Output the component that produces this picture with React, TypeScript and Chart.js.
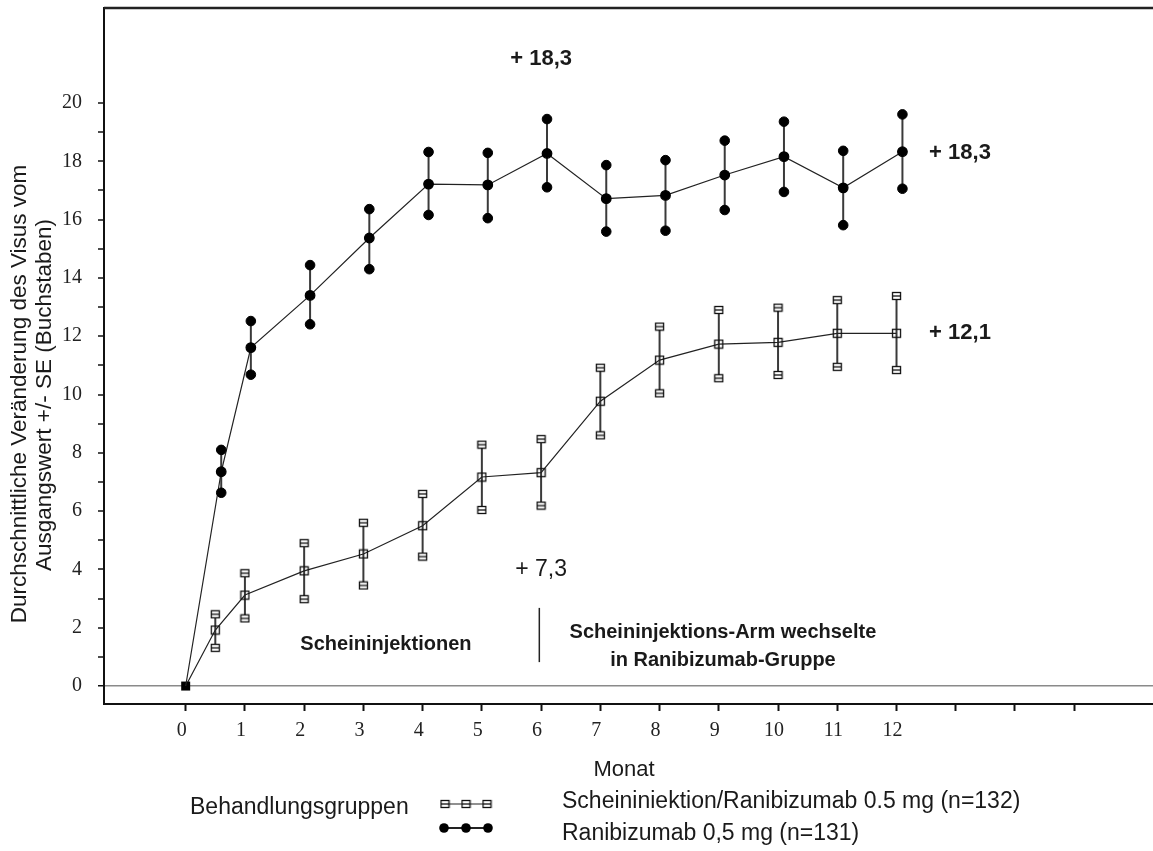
import React, { useEffect, useRef } from "react";
import { Chart, registerables } from "chart.js";

Chart.register(...registerables);

// ---- data ----
const months = [0, 0.5, 1, 2, 3, 4, 5, 6, 7, 8, 9, 10, 11, 12];
const shamMean = [0, 1.92, 3.12, 3.95, 4.53, 5.5, 7.17, 7.32, 9.77, 11.18, 11.73, 11.79, 12.1, 12.1];
const shamUpper = [0, 2.46, 3.87, 4.9, 5.6, 6.59, 8.28, 8.47, 10.92, 12.33, 12.9, 12.98, 13.24, 13.38];
const shamLower = [0, 1.31, 2.32, 2.98, 3.45, 4.44, 6.04, 6.19, 8.6, 10.04, 10.56, 10.67, 10.95, 10.84];
const raniMean = [0, 7.35, 11.61, 13.4, 15.37, 17.22, 17.19, 18.27, 16.72, 16.83, 17.53, 18.16, 17.09, 18.33];
const raniUpper = [0, 8.1, 12.52, 14.44, 16.36, 18.32, 18.29, 19.45, 17.87, 18.04, 18.71, 19.36, 18.36, 19.61];
const raniLower = [0, 6.63, 10.68, 12.41, 14.3, 16.16, 16.05, 17.11, 15.59, 15.62, 16.33, 16.95, 15.81, 17.06];

const xTickValues = [0, 1, 2, 3, 4, 5, 6, 7, 8, 9, 10, 11, 12, 13, 14, 15];
const xTickLabels = ["0", "1", "2", "3", "4", "5", "6", "7", "8", "9", "10", "11", "12", "", "", ""];
const yTickValues = [0, 1, 2, 3, 4, 5, 6, 7, 8, 9, 10, 11, 12, 13, 14, 15, 16, 17, 18, 19, 20];
const yTickLabels = ["0", "", "2", "", "4", "", "6", "", "8", "", "10", "", "12", "", "14", "", "16", "", "18", "", "20"];

const xTitle = "Monat";
const yTitleLines = ["Durchschnittliche Veränderung des Visus vom", "Ausgangswert +/- SE (Buchstaben)"];
const legendTitle = "Behandlungsgruppen";
const shamLabel = "Scheininiektion/Ranibizumab 0.5 mg (n=132)";
const raniLabel = "Ranibizumab 0,5 mg (n=131)";

const annotTexts = ["+ 18,3", "+ 18,3", "+ 12,1", "+ 7,3"];
const annotX = [6, 12.55, 12.55, 6];
const annotY = [21.5, 18.3, 12.1, 4.0];
const annotAlign: CanvasTextAlign[] = ["center", "left", "left", "center"];
const annotBold = [true, true, true, false];

const phaseTexts = ["Scheininjektionen", "Scheininjektions-Arm wechselte", "in Ranibizumab-Gruppe"];
const phaseX = [3.38, 9.07, 9.07];
const phaseY = [1.41, 1.85, 0.89];
const dividerX = 5.97;
const dividerY = [2.68, 0.82];

const raniDodge = 0.1;
const xMin = -1.379;
const xMax = 16.33;
const yMin = -0.617;
const yMax = 23.26;

const SANS = '"Liberation Sans", Arial, sans-serif';
const SERIF = '"Liberation Serif", "Times New Roman", serif';

function mk(w: number, h: number, draw: (g: CanvasRenderingContext2D) => void) {
  const c = document.createElement("canvas");
  c.width = w;
  c.height = h;
  const g = c.getContext("2d")!;
  draw(g);
  return c;
}

export default function App() {
  const ref = useRef<HTMLCanvasElement>(null);

  useEffect(() => {
    document.body.style.margin = "0";
    document.body.style.overflow = "hidden";
    const canvas = ref.current!;

    const sqOpen = mk(11, 11, (g) => {
      g.strokeStyle = "#111";
      g.lineWidth = 1.3;
      g.strokeRect(1.5, 1.5, 8, 8);
    });
    const sqCap = mk(11, 10, (g) => {
      g.fillStyle = "#fff";
      g.fillRect(1, 1, 9, 8);
      g.strokeStyle = "#111";
      g.lineWidth = 1.3;
      g.strokeRect(1.5, 1.5, 8, 7);
      g.beginPath();
      g.moveTo(1.5, 5);
      g.lineTo(9.5, 5);
      g.stroke();
    });
    const sqFilled = mk(11, 11, (g) => {
      g.fillStyle = "#000";
      g.fillRect(1, 1, 9, 9);
    });

    const shamPts = months.map((m, i) => ({ x: m, y: shamMean[i] }));
    const raniPts = months.map((m, i) => ({ x: m === 0 ? m : m + raniDodge, y: raniMean[i] }));
    const shamCapPts = months
      .map((m, i) => [{ x: m, y: shamUpper[i] }, { x: m, y: shamLower[i] }])
      .filter((_, i) => i > 0)
      .flat();
    const raniCapPts = months
      .map((m, i) => [{ x: m + raniDodge, y: raniUpper[i] }, { x: m + raniDodge, y: raniLower[i] }])
      .filter((_, i) => i > 0)
      .flat();

    const errorBars = {
      id: "errorBars",
      beforeDatasetsDraw(chart: any) {
        const { ctx, scales } = chart;
        const xs = scales.x;
        const ys = scales.y;
        ctx.save();
        ctx.strokeStyle = "#3a3a3a";
        ctx.lineWidth = 2;
        months.forEach((m, i) => {
          if (i === 0) return;
          const xa = xs.getPixelForValue(m);
          ctx.beginPath();
          ctx.moveTo(xa, ys.getPixelForValue(shamUpper[i]));
          ctx.lineTo(xa, ys.getPixelForValue(shamLower[i]));
          ctx.stroke();
          const xb = xs.getPixelForValue(m + raniDodge);
          ctx.beginPath();
          ctx.moveTo(xb, ys.getPixelForValue(raniUpper[i]));
          ctx.lineTo(xb, ys.getPixelForValue(raniLower[i]));
          ctx.stroke();
        });
        ctx.restore();
      },
    };

    const decor = {
      id: "decor",
      afterDraw(chart: any) {
        const { ctx, scales, chartArea } = chart;
        const xs = scales.x;
        const ys = scales.y;
        ctx.save();
        // top border
        ctx.strokeStyle = "#222";
        ctx.lineWidth = 2.5;
        ctx.beginPath();
        ctx.moveTo(chartArea.left, chartArea.top);
        ctx.lineTo(chartArea.right, chartArea.top);
        ctx.stroke();

        ctx.fillStyle = "#1a1a1a";
        ctx.textBaseline = "middle";

        // annotations
        annotTexts.forEach((t, i) => {
          ctx.font = `${annotBold[i] ? "bold " : ""}${annotBold[i] ? 22 : 23}px ${SANS}`;
          ctx.textAlign = annotAlign[i];
          ctx.fillText(t, xs.getPixelForValue(annotX[i]), ys.getPixelForValue(annotY[i]));
        });
        // phase labels
        ctx.font = `bold 20px ${SANS}`;
        ctx.textAlign = "center";
        phaseTexts.forEach((t, i) => {
          ctx.fillText(t, xs.getPixelForValue(phaseX[i]), ys.getPixelForValue(phaseY[i]));
        });
        // divider
        ctx.strokeStyle = "#222";
        ctx.lineWidth = 1.5;
        ctx.beginPath();
        ctx.moveTo(xs.getPixelForValue(dividerX), ys.getPixelForValue(dividerY[0]));
        ctx.lineTo(xs.getPixelForValue(dividerX), ys.getPixelForValue(dividerY[1]));
        ctx.stroke();

        // y title
        ctx.font = `22.5px ${SANS}`;
        ctx.textAlign = "center";
        const tx = [20, 45];
        const ty = [394, 395];
        yTitleLines.forEach((t, i) => {
          ctx.save();
          ctx.translate(tx[i], ty[i]);
          ctx.rotate(-Math.PI / 2);
          ctx.fillText(t, 0, 0);
          ctx.restore();
        });

        // x title
        ctx.font = `22px ${SANS}`;
        ctx.fillText(xTitle, 624, 770);

        // legend
        ctx.font = `23px ${SANS}`;
        ctx.textAlign = "left";
        ctx.fillText(legendTitle, 190, 808);
        ctx.fillText(shamLabel, 562, 802);
        ctx.fillText(raniLabel, 562, 834);

        // legend symbols
        ctx.strokeStyle = "#222";
        ctx.lineWidth = 1.2;
        ctx.beginPath();
        ctx.moveTo(445, 804);
        ctx.lineTo(487, 804);
        ctx.stroke();
        [445, 466, 487].forEach((x) => ctx.drawImage(sqCap, x - 5.5, 804 - 5));
        ctx.lineWidth = 2;
        ctx.beginPath();
        ctx.moveTo(444, 828);
        ctx.lineTo(488, 828);
        ctx.stroke();
        ctx.fillStyle = "#000";
        [444, 466, 488].forEach((x) => {
          ctx.beginPath();
          ctx.arc(x, 828, 4.8, 0, Math.PI * 2);
          ctx.fill();
        });
        ctx.restore();
      },
    };

    const chart = new Chart(canvas, {
      type: "scatter",
      data: {
        datasets: [
          {
            label: "shamCaps",
            data: shamCapPts,
            showLine: false,
            pointStyle: sqCap as any,
            pointRadius: 5,
          },
          {
            label: "raniCaps",
            data: raniCapPts,
            showLine: false,
            pointStyle: "circle",
            pointRadius: 4.8,
            backgroundColor: "#000",
            borderColor: "#000",
          },
          {
            label: raniLabel,
            data: raniPts,
            showLine: true,
            borderColor: "#222",
            borderWidth: 1.2,
            pointStyle: "circle",
            pointRadius: (c: any) => (c.dataIndex === 0 ? 0 : 4.8),
            backgroundColor: "#000",
            pointBorderColor: "#000",
          },
          {
            label: shamLabel,
            data: shamPts,
            showLine: true,
            borderColor: "#222",
            borderWidth: 1.2,
            pointStyle: ((c: any) => (c.dataIndex === 0 ? sqFilled : sqOpen)) as any,
            pointRadius: 5,
          },
        ],
      },
      options: {
        animation: false,
        responsive: true,
        maintainAspectRatio: false,
        layout: { autoPadding: false, padding: { top: 8, left: 0, right: 0, bottom: 0 } },
        plugins: { legend: { display: false }, tooltip: { enabled: false } },
        scales: {
          x: {
            type: "linear",
            min: xMin,
            max: xMax,
            afterBuildTicks: (s: any) => {
              s.ticks = xTickValues.map((v) => ({ value: v }));
            },
            afterFit: (s: any) => {
              s.height = 147;
              s.paddingLeft = 0;
              s.paddingRight = 0;
            },
            ticks: {
              autoSkip: false,
              maxRotation: 0,
              padding: 8,
              labelOffset: -4,
              color: "#222",
              font: { family: SERIF, size: 20 },
              callback: (v: any) => {
                const i = xTickValues.indexOf(Number(v));
                return i >= 0 ? xTickLabels[i] : "";
              },
            },
            grid: { drawOnChartArea: false, drawTicks: true, tickLength: 7, tickColor: "#111", tickWidth: 2 },
            border: { display: true, color: "#111", width: 2 },
          },
          y: {
            type: "linear",
            min: yMin,
            max: yMax,
            afterBuildTicks: (s: any) => {
              s.ticks = yTickValues.map((v) => ({ value: v }));
            },
            afterFit: (s: any) => {
              s.width = 104;
              s.paddingTop = 0;
              s.paddingBottom = 0;
            },
            ticks: {
              autoSkip: false,
              padding: 16,
              color: "#222",
              font: { family: SERIF, size: 20 },
              callback: (v: any) => {
                const i = yTickValues.indexOf(Number(v));
                return i >= 0 ? yTickLabels[i] : "";
              },
            },
            grid: {
              drawOnChartArea: true,
              drawTicks: true,
              tickLength: 6,
              tickColor: "#111",
              tickWidth: 1.5,
              color: (c: any) => (c.tick && c.tick.value === 0 ? "#8a8a8a" : "rgba(0,0,0,0)"),
              lineWidth: (c: any) => (c.tick && c.tick.value === 0 ? 1.5 : 0),
            },
            border: { display: true, color: "#111", width: 2 },
          },
        },
      },
      plugins: [errorBars, decor],
    } as any);

    return () => chart.destroy();
  }, []);

  return (
    <div style={{ width: 1153, height: 851, position: "relative", background: "#fff" }}>
      <canvas ref={ref} style={{ display: "block" }} />
    </div>
  );
}
